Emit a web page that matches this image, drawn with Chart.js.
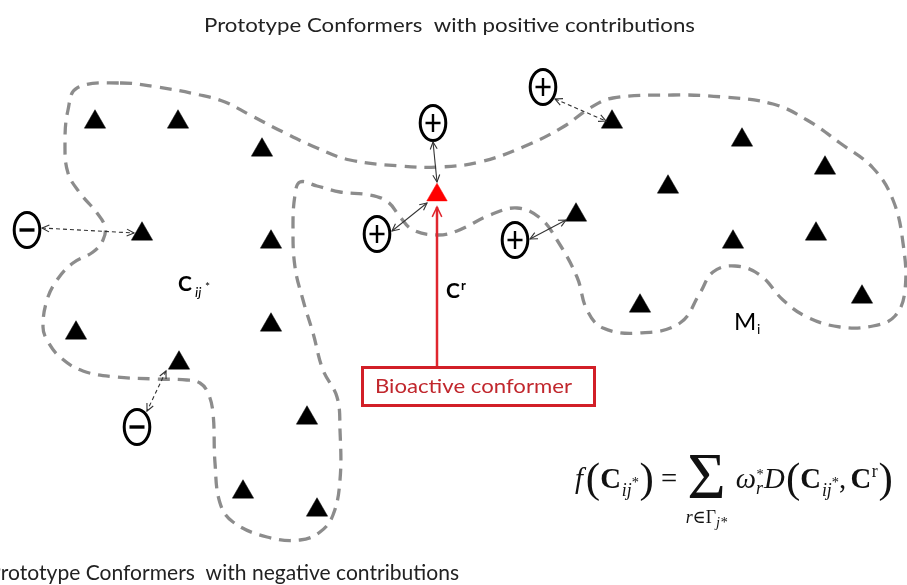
<!DOCTYPE html>
<html><head><meta charset="utf-8">
<script src="https://cdn.jsdelivr.net/npm/chart.js@4.4.1/dist/chart.umd.min.js"></script>
<style>html,body{margin:0;padding:0;background:#fff;overflow:hidden}#wrap{width:907px;height:585px;position:relative}</style>
</head><body><div id="wrap"><canvas id="c"></canvas></div>
<script>
// ---- data (diagram coordinates) ----
const conformers = [[95,122],[178,122],[262,150],[142,234],[271,242],[271,325],[76,333],[179,363],[307,418],[243,492],[317,510],
  [612,122],[742,140],[825,168],[668,187],[576,215],[733,242],[816,234],[640,306],[862,297]];
const bioactive = [[437,195]];
const plusMarkers = [[433,123],[543,87],[377,234],[515,240]];
const minusMarkers = [[27,230],[137,427]];
const solidArrows = [[[433,142],[437,182]], [[392,231],[427,203]], [[530,239],[566,220]]];
const dashedArrows = [[[42,228],[134,233]], [[555,99],[606,121]], [[166,371],[147,411]]];
const bioArrow = [[437,366],[437,207]];
const outline = [[120,83],[157,87],[200,95],[225,102],[250,115],[283,132],[317,148],[350,160],[400,166],[440,167],[480,162],[523,147],[563,127],[590,108],[613,98],[673,95],[723,97],[773,104],[807,120],[840,143],[873,168],[893,200],[903,243],[905,290],[895,316],[873,326],[840,327],[807,317],[783,300],[760,275],[735,266],[713,272],[700,293],[680,323],[640,333],[603,328],[587,310],[577,277],[557,240],[540,218],[517,208],[490,215],[457,231],[437,235],[413,230],[400,217],[388,202],[370,195],[340,192],[317,186],[300,182],[295,195],[293,227],[295,267],[303,300],[313,333],[323,370],[337,397],[340,430],[340,480],[333,515],[320,532],[300,540],[267,537],[233,522],[220,503],[215,463],[213,413],[208,393],[200,383],[187,380],[157,379],[117,377],[83,371],[60,357],[47,340],[43,327],[47,300],[57,280],[73,263],[93,252],[103,240],[105,227],[97,213],[80,193],[68,173],[65,143],[68,110],[77,88]];
const titleTop = 'Prototype Conformers  with positive contributions';
const titleBottom = 'Prototype Conformers  with negative contributions';
const boxLabel = 'Bioactive conformer';

const pts = a => a.map(p => ({x:p[0], y:p[1]}));

function markerCanvas(sign){
  const c = document.createElement('canvas'); c.width = 32; c.height = 42;
  const g = c.getContext('2d');
  g.strokeStyle = '#000'; g.lineWidth = 3;
  g.beginPath(); g.ellipse(16,21,12.8,17.5,0,0,Math.PI*2); g.stroke();
  g.lineWidth = sign==='+' ? 2.4 : 3.4;
  g.beginPath(); g.moveTo(8.5,21); g.lineTo(23.5,21);
  if (sign==='+'){ g.moveTo(16,12); g.lineTo(16,30); }
  g.stroke();
  return c;
}

const GRAY = '#8c8c8c';
const outlineClosed = [outline[outline.length-1]].concat(outline, [outline[0], outline[1]]);
const N = outlineClosed.length;

const datasets = [
  {data: pts(plusMarkers), pointStyle: markerCanvas('+'), pointRadius: 16},
  {data: pts(minusMarkers), pointStyle: markerCanvas('-'), pointRadius: 16},
  {data: pts(bioactive), pointStyle:'triangle', pointRadius:11.8, backgroundColor:'#ff0000', borderColor:'#ff0000', borderWidth:0.5},
  {data: pts(conformers), pointStyle:'triangle', pointRadius:12.3, backgroundColor:'#000', borderColor:'#000', borderWidth:0.5},
  {data: pts(bioArrow), showLine:true, pointRadius:0, borderColor:'#e0262e', borderWidth:2.5, arrow:'end', headLen:11, headW:1.5},
];
solidArrows.forEach(a => datasets.push({data: pts(a), showLine:true, pointRadius:0, borderColor:'#333', borderWidth:1.1, arrow:'both', headLen:8, headW:1.1}));
dashedArrows.forEach(a => datasets.push({data: pts(a), showLine:true, pointRadius:0, borderColor:'#333', borderWidth:1.1, borderDash:[4,3], arrow:'both', headLen:8, headW:1.1}));
datasets.push({data: pts(outlineClosed), showLine:true, pointRadius:0, tension:0.4, borderColor:GRAY, borderWidth:3.3, borderDash:[12,8],
  segment:{borderColor: s => (s.p0DataIndex===0 || s.p1DataIndex===N-1) ? 'rgba(0,0,0,0)' : GRAY}});

function head(ctx, tip, from, len, lw, color){
  const ang = Math.atan2(tip.y-from.y, tip.x-from.x);
  const a = 0.45;
  ctx.save(); ctx.strokeStyle = color; ctx.lineWidth = lw; ctx.setLineDash([]);
  ctx.beginPath();
  ctx.moveTo(tip.x - len*Math.cos(ang-a), tip.y - len*Math.sin(ang-a));
  ctx.lineTo(tip.x, tip.y);
  ctx.lineTo(tip.x - len*Math.cos(ang+a), tip.y - len*Math.sin(ang+a));
  ctx.stroke(); ctx.restore();
}

function fitText(ctx, s, left, right, base, font, color, skipPrefix){
  ctx.save(); ctx.font = font; ctx.fillStyle = color;
  const w = ctx.measureText(s).width;
  const pw = skipPrefix ? ctx.measureText(skipPrefix).width : 0;
  const sx = (right-left)/(w-pw);
  ctx.translate(left - pw*sx, base); ctx.scale(sx,1);
  ctx.fillText(s,0,0); ctx.restore();
}

function drawFormula(ctx, x0, base, targetW){
  const F = '"Liberation Serif", "DejaVu Serif", serif';
  function layout(S, draw){
    let x = x0;
    const put = (t, style, size, dy=0, gap=0) => {
      ctx.font = `${style} ${size}px ${F}`;
      const w = ctx.measureText(t).width;
      if (draw) ctx.fillText(t, x, base+dy);
      x += w + gap; return w;
    };
    put('f','italic',S,0,S*0.1);
    put('(','',S*1.5,S*0.13);
    put('C','bold',S,0,S*0.03);
    put('ij','italic',S*0.62,S*0.28);
    put('*','',S*0.5,-S*0.02,S*0.02);
    put(')','',S*1.5,S*0.13,S*0.25);
    put('=','',S,0,S*0.35);
    ctx.font = `${S*2.3}px ${F}`;
    const sw = ctx.measureText('Σ').width;
    if (draw){
      ctx.fillText('Σ', x, base+S*0.36);
      ctx.font = `italic ${S*0.62}px ${F}`; const w1 = ctx.measureText('r').width;
      ctx.font = `${S*0.62}px ${F}`; const w2 = ctx.measureText('∈Γ').width;
      ctx.font = `italic ${S*0.5}px ${F}`; const w3 = ctx.measureText('j*').width;
      let sx = x + sw/2 - (w1+w2+w3)/2; const sb = base + S*1.22;
      ctx.font = `italic ${S*0.62}px ${F}`; ctx.fillText('r', sx, sb); sx += w1;
      ctx.font = `${S*0.62}px ${F}`; ctx.fillText('∈Γ', sx, sb); sx += w2;
      ctx.font = `italic ${S*0.5}px ${F}`; ctx.fillText('j*', sx, sb+S*0.15);
    }
    x += sw + S*0.35;
    put('ω','italic',S);
    ctx.font = `${S*0.5}px ${F}`; if (draw) ctx.fillText('*', x+S*0.02, base-S*0.3);
    ctx.font = `italic ${S*0.62}px ${F}`; const rw = ctx.measureText('r').width;
    if (draw) ctx.fillText('r', x, base+S*0.22);
    x += rw + S*0.04;
    put('D','italic',S,0,S*0.04);
    put('(','',S*1.5,S*0.13);
    put('C','bold',S,0,S*0.03);
    put('ij','italic',S*0.62,S*0.28);
    put('*','',S*0.5,-S*0.02);
    put(',','',S,0,S*0.15);
    put('C','bold',S,0,S*0.02);
    put('r','',S*0.62,-S*0.38,S*0.03);
    put(')','',S*1.5,S*0.13);
    return x - x0;
  }
  ctx.save(); ctx.fillStyle = '#111';
  const w = layout(24,false);
  layout(24*targetW/w,true);
  ctx.restore();
}

const overlay = {
  id:'overlay',
  afterDatasetsDraw(chart){
    const ctx = chart.ctx;
    chart.data.datasets.forEach((ds,i) => {
      if (!ds.arrow) return;
      const el = chart.getDatasetMeta(i).data;
      const a = el[0], b = el[el.length-1];
      head(ctx, b, a, ds.headLen, ds.headW, ds.borderColor);
      if (ds.arrow==='both') head(ctx, a, b, ds.headLen, ds.headW, ds.borderColor);
    });
    const SANS = 'Lato, "Open Sans", sans-serif';
    fitText(ctx, titleTop, 204, 695, 32, `19px ${SANS}`, '#222');
    fitText(ctx, titleBottom, 1, 459, 580, `21px ${SANS}`, '#222', 'P');
    ctx.save();
    ctx.strokeStyle = '#d21f27'; ctx.lineWidth = 3;
    ctx.strokeRect(362.5, 367.5, 232, 38);
    ctx.restore();
    fitText(ctx, boxLabel, 375, 572, 393, `20px ${SANS}`, '#c1272d');
    ctx.save(); ctx.fillStyle = '#000';
    ctx.font = `bold 21px ${SANS}`; ctx.fillText('C', 178, 291);
    ctx.font = `italic 14px ${SANS}`; ctx.fillText('ij', 195, 297);
    ctx.font = `12px ${SANS}`; ctx.fillText('*', 205, 291);
    ctx.font = `bold 21px ${SANS}`; ctx.fillText('C', 446, 298);
    ctx.font = `bold 13px ${SANS}`; ctx.fillText('r', 461, 290);
    ctx.font = `24px ${SANS}`; ctx.fillText('M', 734, 330);
    ctx.font = `14px ${SANS}`; ctx.fillText('i', 757, 334);
    ctx.restore();
    drawFormula(ctx, 575, 488, 318);
  }
};

new Chart(document.getElementById('c'), {
  type:'scatter',
  data:{datasets},
  options:{
    responsive:true, maintainAspectRatio:false, animation:false, events:[],
    layout:{padding:0, autoPadding:false},
    plugins:{legend:{display:false}, tooltip:{enabled:false}},
    elements:{line:{borderCapStyle:'butt'}},
    scales:{
      x:{type:'linear', min:0, max:907, display:false, offset:false},
      y:{type:'linear', min:0, max:585, reverse:true, display:false, offset:false}
    }
  },
  plugins:[overlay]
});
</script></body></html>
